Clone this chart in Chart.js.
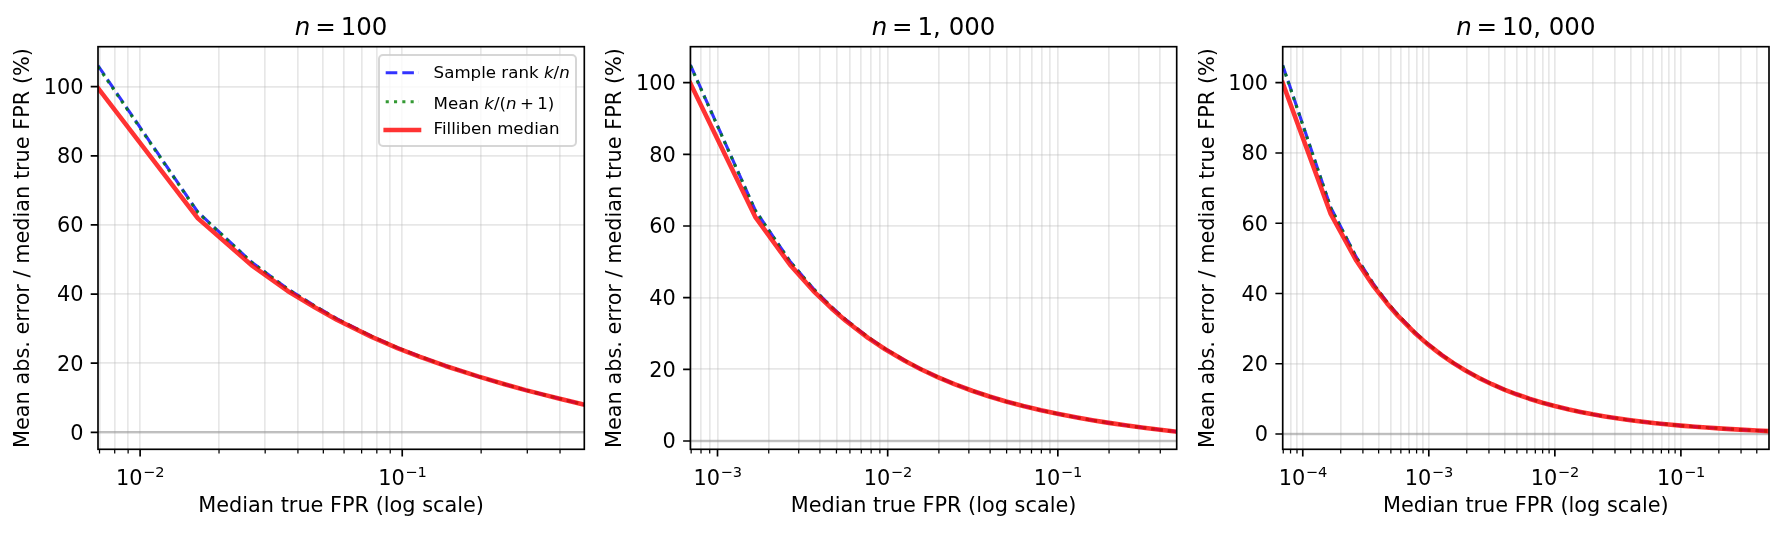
<!DOCTYPE html>
<html><head><meta charset="utf-8">
<script src="https://cdn.jsdelivr.net/npm/chart.js@4.4.1/dist/chart.umd.min.js"></script>
<style>
html,body{margin:0;padding:0;background:#fff;}
#wrap{position:relative;width:1784px;height:533px;overflow:hidden;background:#fff;}
canvas{position:absolute;top:0;}
</style></head><body>
<div id="wrap">
<canvas id="c0" style="left:0px" width="592" height="533"></canvas>
<canvas id="c1" style="left:592px" width="593" height="533"></canvas>
<canvas id="c2" style="left:1185px" width="599" height="533"></canvas>
</div>
<script>
// ---------- data ----------
const xN100 = [0.0069075, 0.016611, 0.026578, 0.036545, 0.046512, 0.056478, 0.076412, 0.096346, 0.11628, 0.14618, 0.19601, 0.24585, 0.29568, 0.34551, 0.39535, 0.44518, 0.49502];
const fillibenN100 = [99.6, 61.9, 48.4, 40.9, 36.1, 32.5, 27.6, 24.3, 21.9, 19.2, 16.1, 13.9, 12.2, 10.9, 9.8, 8.85, 8.0];
const rankN100 = [106.1, 63.7, 49.3, 41.5, 36.5, 32.8, 27.8, 24.4, 22.0, 19.25, 16.1, 13.9, 12.2, 10.9, 9.8, 8.85, 8.0];
const meanN100 = [105.8, 63.6, 49.25, 41.45, 36.45, 32.75, 27.75, 24.4, 22.0, 19.25, 16.1, 13.9, 12.2, 10.9, 9.8, 8.85, 8.0];

const xN1000 = [0.00069291, 0.0016661, 0.0026658, 0.0036655, 0.0046651, 0.0056648, 0.0076641, 0.0096635, 0.012663, 0.015662, 0.019660, 0.024659, 0.031656, 0.039654, 0.049650, 0.062646, 0.079640, 0.099634, 0.12962, 0.15961, 0.19960, 0.24958, 0.31956, 0.39953, 0.49950];
const fillibenN1000 = [99.8, 62.57, 49.22, 41.85, 37.06, 33.57, 28.79, 25.60, 22.31, 20.02, 17.83, 15.87, 13.96, 12.42, 11.04, 9.76, 8.57, 7.58, 6.53, 5.79, 5.05, 4.37, 3.70, 3.12, 2.6];
const rankN1000 = [104.95, 64.4, 50.17, 42.46, 37.46, 33.89, 28.99, 25.75, 22.41, 20.09, 17.88, 15.90, 13.98, 12.43, 11.05, 9.77, 8.57, 7.58, 6.53, 5.79, 5.05, 4.37, 3.70, 3.12, 2.6];
const meanN1000 = [104.8, 64.35, 50.13, 42.43, 37.43, 33.87, 28.97, 25.74, 22.40, 20.08, 17.87, 15.89, 13.97, 12.43, 11.05, 9.77, 8.57, 7.58, 6.53, 5.79, 5.05, 4.37, 3.70, 3.12, 2.6];

const xN10000 = [0.000069312, 0.00016666, 0.00026666, 0.00036665, 0.00046665, 0.00056665, 0.00076664, 0.00096664, 0.0012666, 0.0015666, 0.0019666, 0.0024666, 0.0031665, 0.0039665, 0.0049665, 0.0062664, 0.0079664, 0.0099664, 0.012966, 0.015966, 0.019966, 0.024966, 0.031966, 0.039966, 0.049966, 0.062964, 0.079964, 0.099964, 0.12996, 0.15996, 0.19996, 0.24996, 0.31996, 0.39996, 0.49998];
const fillibenN10000 = [99.9, 62.65, 49.31, 41.94, 37.16, 33.68, 28.91, 25.72, 22.45, 20.18, 18.00, 16.06, 14.17, 12.65, 11.30, 10.05, 8.91, 7.95, 6.96, 6.27, 5.59, 4.99, 4.39, 3.91, 3.48, 3.08, 2.71, 2.39, 2.06, 1.83, 1.60, 1.38, 1.16, 0.98, 0.80];
const rankN10000 = [105.0, 64.5, 50.26, 42.55, 37.56, 34.00, 29.11, 25.87, 22.55, 20.25, 18.05, 16.09, 14.19, 12.66, 11.31, 10.05, 8.91, 7.95, 6.96, 6.27, 5.59, 4.99, 4.39, 3.91, 3.48, 3.08, 2.71, 2.39, 2.06, 1.83, 1.60, 1.38, 1.16, 0.98, 0.80];
const meanN10000 = [104.85, 64.45, 50.22, 42.52, 37.54, 33.98, 29.10, 25.86, 22.54, 20.24, 18.04, 16.08, 14.18, 12.66, 11.31, 10.05, 8.91, 7.95, 6.96, 6.27, 5.59, 4.99, 4.39, 3.91, 3.48, 3.08, 2.71, 2.39, 2.06, 1.83, 1.60, 1.38, 1.16, 0.98, 0.80];

// ---------- ticks / labels ----------
const yTickValues = [0, 20, 40, 60, 80, 100];
const yTickLabels = ['0', '20', '40', '60', '80', '100'];
const xMajorN100 = [0.01, 0.1];
const xMajorLabelsN100 = [['10', '\u22122'], ['10', '\u22121']];
const xMinorN100 = [0.007, 0.008, 0.009, 0.02, 0.03, 0.04, 0.05, 0.06, 0.07, 0.08, 0.09, 0.2, 0.3, 0.4];
const xMajorN1000 = [0.001, 0.01, 0.1];
const xMajorLabelsN1000 = [['10', '\u22123'], ['10', '\u22122'], ['10', '\u22121']];
const xMinorN1000 = [0.0007, 0.0008, 0.0009, 0.002, 0.003, 0.004, 0.005, 0.006, 0.007, 0.008, 0.009, 0.02, 0.03, 0.04, 0.05, 0.06, 0.07, 0.08, 0.09, 0.2, 0.3, 0.4];
const xMajorN10000 = [0.0001, 0.001, 0.01, 0.1];
const xMajorLabelsN10000 = [['10', '\u22124'], ['10', '\u22123'], ['10', '\u22122'], ['10', '\u22121']];
const xMinorN10000 = [0.00007, 0.00008, 0.00009, 0.0002, 0.0003, 0.0004, 0.0005, 0.0006, 0.0007, 0.0008, 0.0009, 0.002, 0.003, 0.004, 0.005, 0.006, 0.007, 0.008, 0.009, 0.02, 0.03, 0.04, 0.05, 0.06, 0.07, 0.08, 0.09, 0.2, 0.3, 0.4];

const panelTitles = [
  [['n', true], ['\u2009=\u2009100', false]],
  [['n', true], ['\u2009=\u20091, 000', false]],
  [['n', true], ['\u2009=\u200910, 000', false]]
];
const yAxisTitle = 'Mean abs. error / median true FPR (%)';
const xAxisTitle = 'Median true FPR (log scale)';
const seriesNames = ['Filliben median', 'Mean k/(n+1)', 'Sample rank k/n'];
const legendRows = [
  {ds: 2, parts: [['Sample rank ', false], ['k', true], ['/', false], ['n', true]]},
  {ds: 1, parts: [['Mean ', false], ['k', true], ['/(', false], ['n', true], ['\u2009+\u20091)', false]]},
  {ds: 0, parts: [['Filliben median', false]]}
];

// ---------- styling ----------
const FAM = "'DejaVu Sans', sans-serif";
const FS = 20.83;
const GRID = 'rgba(176,176,176,0.3)';

function drawParts(ctx, parts, x, y, size, align) {
  const fonts = parts.map(p => (p[1] ? 'italic ' : '') + size + 'px ' + FAM);
  let total = 0;
  const widths = parts.map((p, i) => { ctx.font = fonts[i]; const w = ctx.measureText(p[0]).width; total += w; return w; });
  let cx = align === 'center' ? x - total / 2 : x;
  ctx.textBaseline = 'alphabetic';
  ctx.textAlign = 'left';
  parts.forEach((p, i) => { ctx.font = fonts[i]; ctx.fillText(p[0], cx, y); cx += widths[i]; });
}

function drawPowerLabel(ctx, lab, x, baseY) {
  const big = FS + 'px ' + FAM, small = (FS * 0.7) + 'px ' + FAM;
  ctx.font = big; const w1 = ctx.measureText(lab[0]).width;
  ctx.font = small; const w2 = ctx.measureText(lab[1]).width;
  const x0 = x - (w1 + w2) / 2;
  ctx.textBaseline = 'alphabetic'; ctx.textAlign = 'left';
  ctx.font = big; ctx.fillText(lab[0], x0, baseY);
  ctx.font = small; ctx.fillText(lab[1], x0 + w1 + 0.5, baseY - 7.6);
}

function makePanel(id, cfg) {
  const decor = {
    id: 'decor' + id,
    afterDatasetsDraw(chart) {
      const {ctx, chartArea: a} = chart;
      ctx.save();
      ctx.strokeStyle = '#000';
      ctx.lineWidth = 1.67;
      ctx.strokeRect(a.left, a.top, a.right - a.left, a.bottom - a.top);
      ctx.restore();
    },
    afterDraw(chart) {
      const {ctx, chartArea: a} = chart;
      const xs = chart.scales.x, ys = chart.scales.y;
      ctx.save();
      ctx.strokeStyle = '#000';
      ctx.lineWidth = 1.67;
      ctx.beginPath();
      cfg.major.forEach(v => { const p = xs.getPixelForValue(v); ctx.moveTo(p, a.bottom); ctx.lineTo(p, a.bottom + 7.3); });
      yTickValues.forEach(v => { const p = ys.getPixelForValue(v); ctx.moveTo(a.left - 7.3, p); ctx.lineTo(a.left, p); });
      ctx.stroke();
      ctx.lineWidth = 1.25;
      ctx.beginPath();
      cfg.minor.forEach(v => { const p = xs.getPixelForValue(v); ctx.moveTo(p, a.bottom); ctx.lineTo(p, a.bottom + 4.2); });
      ctx.stroke();
      // x tick labels with raised exponents
      ctx.fillStyle = '#000';
      cfg.major.forEach((v, i) => drawPowerLabel(ctx, cfg.majorLabels[i], xs.getPixelForValue(v), a.bottom + 35.7));
      // panel title
      drawParts(ctx, cfg.title, (a.left + a.right) / 2, 34.8, 24.5, 'center');
      // legend
      if (cfg.legend) {
        const lx = a.right - 8.3 - 197, ly = a.top + 8.3, lw = 197, lh = 91, r = 4;
        ctx.beginPath();
        ctx.moveTo(lx + r, ly); ctx.lineTo(lx + lw - r, ly); ctx.arcTo(lx + lw, ly, lx + lw, ly + r, r);
        ctx.lineTo(lx + lw, ly + lh - r); ctx.arcTo(lx + lw, ly + lh, lx + lw - r, ly + lh, r);
        ctx.lineTo(lx + r, ly + lh); ctx.arcTo(lx, ly + lh, lx, ly + lh - r, r);
        ctx.lineTo(lx, ly + r); ctx.arcTo(lx, ly, lx + r, ly, r); ctx.closePath();
        ctx.fillStyle = 'rgba(255,255,255,0.8)'; ctx.fill();
        ctx.strokeStyle = 'rgba(204,204,204,0.8)'; ctx.lineWidth = 2; ctx.stroke();
        const handleY = [17.7, 46.7, 75.0], baseY = [23.3, 54.3, 79.3];
        legendRows.forEach((row, i) => {
          const ds = chart.data.datasets[row.ds];
          ctx.save();
          ctx.strokeStyle = ds.borderColor; ctx.lineWidth = ds.borderWidth;
          ctx.setLineDash(ds.borderDash || []); ctx.lineCap = ds.borderCapStyle || 'butt';
          ctx.beginPath(); ctx.moveTo(lx + 6.7, ly + handleY[i]); ctx.lineTo(lx + 40, ly + handleY[i]); ctx.stroke();
          ctx.restore();
          ctx.fillStyle = '#000';
          drawParts(ctx, row.parts, lx + 54.6, ly + baseY[i], 16.67, 'left');
        });
      }
      ctx.restore();
    }
  };
  const pts = arr => cfg.x.map((x, i) => ({x: x, y: arr[i]}));
  const grid = cfg.minor.concat(cfg.major).sort((a, b) => a - b);
  return new Chart(document.getElementById(id), {
    type: 'line',
    data: {datasets: [
      {label: seriesNames[0], data: pts(cfg.fil), borderColor: 'rgba(255,0,0,0.8)', borderWidth: 4.6, borderCapStyle: 'square', borderJoinStyle: 'round', order: 0, clip: 0},
      {label: seriesNames[1], data: pts(cfg.mean), borderColor: 'rgba(0,128,0,0.8)', borderWidth: 3.1, borderDash: [3.1, 5.2], borderCapStyle: 'butt', borderJoinStyle: 'round', order: 1, clip: 0},
      {label: seriesNames[2], data: pts(cfg.rank), borderColor: 'rgba(0,0,255,0.8)', borderWidth: 3.1, borderDash: [11.6, 5.0], borderCapStyle: 'butt', borderJoinStyle: 'round', order: 2, clip: 0},
      {label: 'zero', data: [{x: cfg.x[0], y: 0}, {x: cfg.x[cfg.x.length - 1], y: 0}], borderColor: 'rgba(128,128,128,0.4)', borderWidth: 2.5, order: 3, clip: 0}
    ]},
    options: {
      responsive: false, animation: false, devicePixelRatio: 1,
      elements: {point: {radius: 0, hoverRadius: 0}, line: {tension: 0, fill: false}},
      layout: {padding: {left: 0, right: cfg.padRight, top: 46.7, bottom: 0}},
      plugins: {legend: {display: false}, tooltip: {enabled: false}, title: {display: false}},
      events: [],
      scales: {
        x: {
          type: 'logarithmic', position: 'bottom', min: cfg.x[0], max: cfg.x[cfg.x.length - 1],
          afterBuildTicks: s => { s.ticks = grid.map(v => ({value: v})); },
          afterFit: s => { s.height = 83.7; },
          ticks: {autoSkip: false, maxRotation: 0, minRotation: 0, padding: 16, color: '#000',
                  font: {family: FAM, size: FS, lineHeight: 1.2},
                  callback: () => ''},
          grid: {color: GRID, lineWidth: 1.67, drawTicks: false},
          border: {display: false},
          title: {display: true, text: xAxisTitle, color: '#000', font: {family: FAM, size: FS, lineHeight: 1.2}, padding: {top: 0, bottom: 13.7}}
        },
        y: {
          type: 'linear', position: 'left', min: cfg.ymin, max: cfg.ymax,
          afterBuildTicks: s => { s.ticks = yTickValues.map(v => ({value: v})); },
          afterFit: s => { s.width = cfg.yw; },
          ticks: {padding: 14.6, labelOffset: 2, color: '#000', font: {family: FAM, size: FS, lineHeight: 1.2},
                  callback: v => yTickLabels[yTickValues.indexOf(v)]},
          grid: {color: GRID, lineWidth: 1.67, drawTicks: false},
          border: {display: false},
          title: {display: true, text: yAxisTitle, color: '#000', font: {family: FAM, size: FS, lineHeight: 1.2}, padding: {top: cfg.yw - 87.1, bottom: 0}}
        }
      }
    },
    plugins: [decor]
  });
}

makePanel('c0', {x: xN100, fil: fillibenN100, rank: rankN100, mean: meanN100, major: xMajorN100, majorLabels: xMajorLabelsN100, minor: xMinorN100,
  ymin: -4.92, ymax: 111.57, yw: 98, padRight: 7.7, title: panelTitles[0], legend: true});
makePanel('c1', {x: xN1000, fil: fillibenN1000, rank: rankN1000, mean: meanN1000, major: xMajorN1000, majorLabels: xMajorLabelsN1000, minor: xMinorN1000,
  ymin: -2.32, ymax: 110.05, yw: 98.4, padRight: 8.3, title: panelTitles[1], legend: false});
makePanel('c2', {x: xN10000, fil: fillibenN10000, rank: rankN10000, mean: meanN10000, major: xMajorN10000, majorLabels: xMajorLabelsN10000, minor: xMinorN10000,
  ymin: -4.36, ymax: 110.25, yw: 97.7, padRight: 15, title: panelTitles[2], legend: false});
</script>
</body></html>
